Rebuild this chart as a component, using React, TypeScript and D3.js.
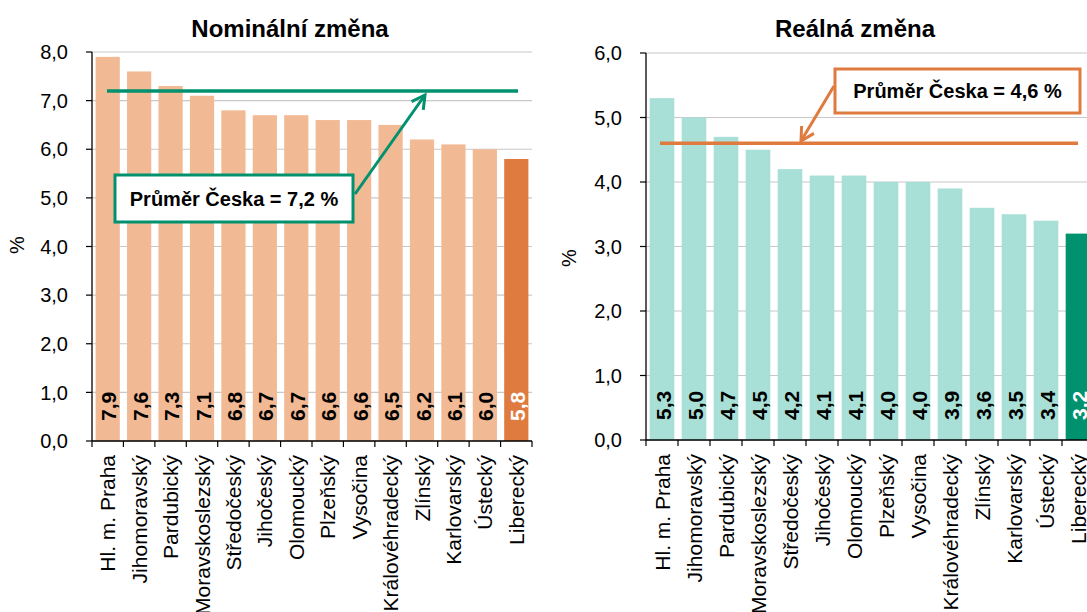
import React from "react";
import * as d3 from "d3";

const regions = ["Hl. m. Praha","Jihomoravský","Pardubický","Moravskoslezský","Středočeský","Jihočeský","Olomoucký","Plzeňský","Vysočina","Královéhradecký","Zlínský","Karlovarský","Ústecký","Liberecký"];
const nominal = [7.9,7.6,7.3,7.1,6.8,6.7,6.7,6.6,6.6,6.5,6.2,6.1,6.0,5.8];
const real = [5.3,5.0,4.7,4.5,4.2,4.1,4.1,4.0,4.0,3.9,3.6,3.5,3.4,3.2];
const nominalAvg = 7.2;
const realAvg = 4.6;
const nominalTicks = [0,1,2,3,4,5,6,7,8];
const realTicks = [0,1,2,3,4,5,6];
const highlight = "Liberecký";

const FONT = "Liberation Sans, Arial, sans-serif";
const fmt = (v: number) => v.toFixed(1).replace(".", ",");

type PanelProps = {
  title: string; values: number[]; ticks: number[]; avg: number;
  x0: number; x1: number; yTop: number; yBot: number; yMax: number;
  titleX: number; pctX: number; pctY: number; labelGap: number;
  barColor: string; hiColor: string; lineColor: string;
  lineX0: number; lineX1: number;
  box: { x: number; y: number; w: number; h: number };
  arrow: { fx: number; fy: number; tx: number; ty: number };
  clipW: number;
};

function Panel(p: PanelProps) {
  const x = d3.scaleBand<string>().domain(regions).range([p.x0, p.x1]).paddingInner(0.23).paddingOuter(0.115);
  const y = d3.scaleLinear().domain([0, p.yMax]).range([p.yBot, p.yTop]);
  const step = x.step();
  const ay = y(p.avg);
  const { fx, fy, tx, ty } = p.arrow;
  const ang = Math.atan2(ty - fy, tx - fx);
  const hl = 15, ha = 0.5;
  const h1 = [tx - hl * Math.cos(ang - ha), ty - hl * Math.sin(ang - ha)];
  const h2 = [tx - hl * Math.cos(ang + ha), ty - hl * Math.sin(ang + ha)];
  return (
    <g fontFamily={FONT}>
      <text x={p.titleX} y={37} textAnchor="middle" fontSize={24} fontWeight="bold" fill="#000">{p.title}</text>
      <text transform={`translate(${p.pctX},${p.pctY}) rotate(-90)`} textAnchor="middle" fontSize={20} fill="#000">%</text>
      {p.ticks.map(t => (
        <g key={t}>
          <line x1={p.x0} x2={Math.min(p.x1, p.clipW)} y1={y(t)} y2={y(t)} stroke="#C8C8C8" strokeWidth={1.2} />
          <line x1={p.x0 - 6} x2={p.x0} y1={y(t)} y2={y(t)} stroke="#000" strokeWidth={1.2} />
          <text x={p.x0 - p.labelGap} y={y(t)} dy="0.36em" textAnchor="end" fontSize={20} fill="#000">{fmt(t)}</text>
        </g>
      ))}
      {regions.map((r, i) => {
        const v = p.values[i];
        const isHi = r === highlight;
        const cx = (x(r) as number) + x.bandwidth() / 2;
        return (
          <g key={r}>
            <rect x={x(r)} y={y(v)} width={x.bandwidth()} height={p.yBot - y(v)} fill={isHi ? p.hiColor : p.barColor} />
            <text transform={`translate(${cx + 1},${p.yBot - 20}) rotate(-90)`} dominantBaseline="central" fontSize={21} fontWeight="bold" fill={isHi ? "#fff" : "#000"}>{fmt(v)}</text>
            <text transform={`translate(${cx},${p.yBot + 14}) rotate(-90)`} textAnchor="end" dominantBaseline="central" fontSize={21} fill="#000">{r}</text>
          </g>
        );
      })}
      <line x1={p.x0} x2={p.x0} y1={p.yTop} y2={p.yBot} stroke="#000" strokeWidth={1.3} />
      <line x1={p.x0} x2={p.x1} y1={p.yBot} y2={p.yBot} stroke="#000" strokeWidth={1.3} />
      {d3.range(regions.length + 1).map(i => (
        <line key={i} x1={p.x0 + i * step} x2={p.x0 + i * step} y1={p.yBot} y2={p.yBot + 6} stroke="#000" strokeWidth={1.2} />
      ))}
      <line x1={p.lineX0} x2={p.lineX1} y1={ay} y2={ay} stroke={p.lineColor} strokeWidth={3.5} />
      <line x1={fx} y1={fy} x2={tx} y2={ty} stroke={p.lineColor} strokeWidth={3} />
      <polyline points={`${h1[0]},${h1[1]} ${tx},${ty} ${h2[0]},${h2[1]}`} fill="none" stroke={p.lineColor} strokeWidth={3} />
      <rect x={p.box.x} y={p.box.y} width={p.box.w} height={p.box.h} fill="#fff" stroke={p.lineColor} strokeWidth={3} />
      <text x={p.box.x + p.box.w / 2} y={p.box.y + p.box.h / 2} dy="0.36em" textAnchor="middle" fontSize={20} fontWeight="bold" fill="#000">{`Průměr Česka = ${fmt(p.avg)} %`}</text>
    </g>
  );
}

export default function App() {
  return (
    <svg width={1087} height={612} style={{ position: "absolute", left: 0, top: 0, background: "#fff" }}>
      <Panel title="Nominální změna" values={nominal} ticks={nominalTicks} avg={nominalAvg}
        x0={92} x1={532} yTop={52} yBot={441} yMax={8}
        titleX={290} pctX={24} pctY={245} labelGap={24}
        barColor="#F1B994" hiColor="#E07B40" lineColor="#00916E"
        lineX0={107} lineX1={518}
        box={{ x: 115, y: 175, w: 238, h: 47 }}
        arrow={{ fx: 355, fy: 194, tx: 425, ty: 95 }} clipW={1087} />
      <Panel title="Reálná změna" values={real} ticks={realTicks} avg={realAvg}
        x0={646} x1={1094} yTop={53} yBot={440} yMax={6}
        titleX={855} pctX={576} pctY={258} labelGap={24}
        barColor="#A8DFD6" hiColor="#00916E" lineColor="#E07B40"
        lineX0={660} lineX1={1078}
        box={{ x: 835, y: 69, w: 245, h: 44 }}
        arrow={{ fx: 834, fy: 86, tx: 801, ty: 141 }} clipW={1087} />
    </svg>
  );
}
